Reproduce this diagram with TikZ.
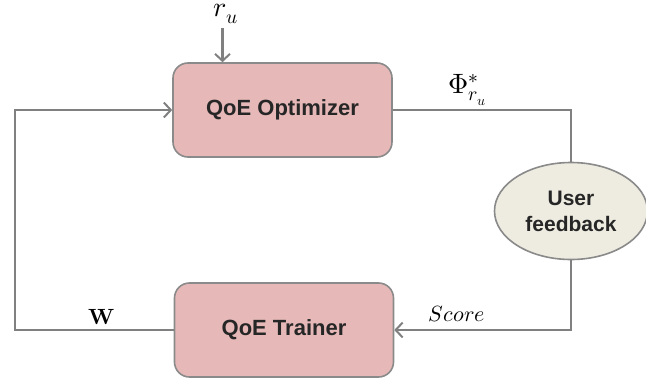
\documentclass[tikz,border=0pt]{standalone}
\usepackage{fontspec}
\setmainfont{Liberation Sans}
\usepackage{unicode-math}
\setmathfont{Latin Modern Math}
\usetikzlibrary{arrows.meta,shapes.geometric}
\definecolor{boxfill}{HTML}{E6B9B8}
\definecolor{boxdraw}{HTML}{8A8A8A}
\definecolor{ellfill}{HTML}{EEECE1}
\definecolor{linegray}{HTML}{808080}
\tikzset{
  procbox/.style={draw=boxdraw, fill=boxfill, line width=1.6pt, rounded corners=15pt,
    minimum width=219pt, minimum height=94pt, inner sep=0pt,
    font=\fontsize{22}{24}\selectfont\bfseries, text=black!85},
  userell/.style={ellipse, draw=boxdraw, fill=ellfill, line width=1.6pt,
    minimum width=153pt, minimum height=97pt, inner sep=0pt, align=center,
    font=\fontsize{21}{26}\selectfont\bfseries, text=black!85},
  conn/.style={draw=linegray, line width=2.4pt},
  tip/.style={-{Straight Barb[length=7pt,width=15pt,line width=2pt]}},
  lbl/.style={inner sep=0pt, font=\fontsize{22}{24}\selectfont},
  biglbl/.style={inner sep=0pt, font=\fontsize{28}{32}\selectfont}
}
\begin{document}
\begin{tikzpicture}[x=1pt,y=-1pt]
\useasboundingbox (0,0) rectangle (646,383);
\node[procbox] (opt) at (282.5,110) {QoE Optimizer};
\node[procbox] (trn) at (284,330) {QoE Trainer};
\node[userell] (usr) at (571,211) {User\\feedback};
\node[biglbl, anchor=north] (ru) at (226,4) {$r_u$};
\coordinate (ruend) at (222.5,28);
\draw[conn,tip] (ruend) -- (opt.north -| ruend);
\coordinate (tr) at (571,110);
\coordinate (br) at (571,330);
\coordinate (bl) at (15,330);
\coordinate (tl) at (15,110);
\draw[conn] (opt.east) -- (tr) -- (usr.north);
\draw[conn,tip] (usr.south) -- (br) -- (trn.east);
\draw[conn,tip] (trn.west) -- (bl) -- (tl) -- (opt.west);
\node[biglbl, anchor=south west] (phi) at (448,106) {$\Phi^{*}_{r_u}$};
\node[lbl] (score) at (457,314) {$Score$};
\node[lbl] (w) at (102,317) {$\symbf{W}$};
\end{tikzpicture}
\end{document}
